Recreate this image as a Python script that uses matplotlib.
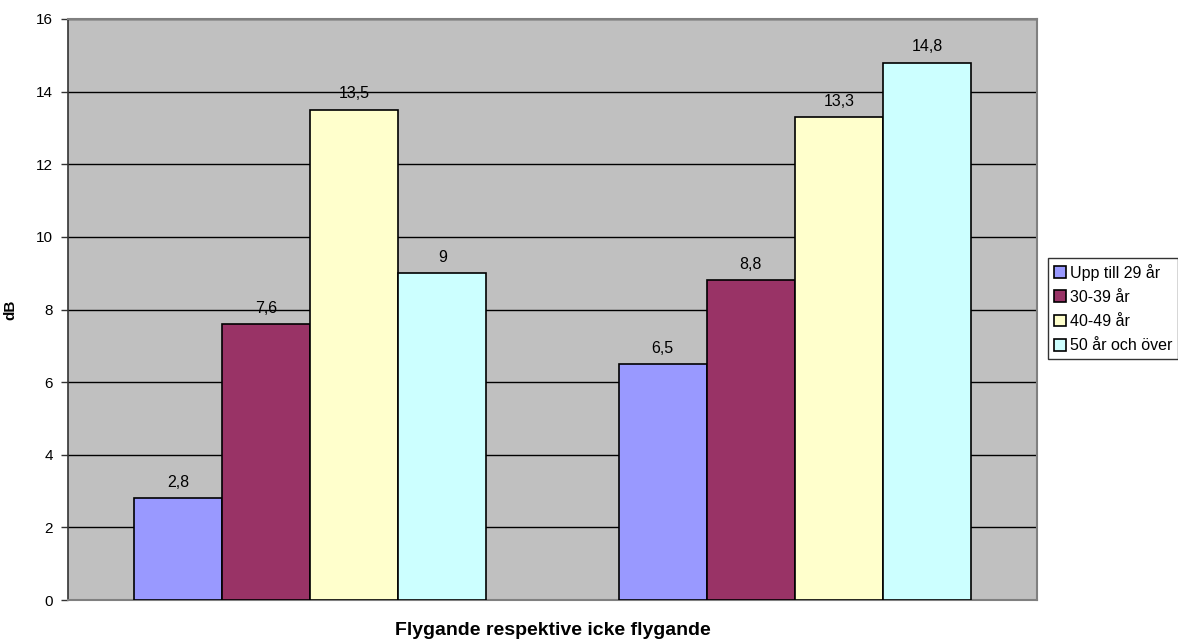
import matplotlib
matplotlib.use("Agg")
import matplotlib.pyplot as plt
import numpy as np

plt.rcParams['font.family'] = ['Liberation Sans', 'DejaVu Sans']

categories = ["Flygande", "Icke flygande"]
series_names = ["Upp till 29 år", "30-39 år", "40-49 år", "50 år och över"]
values = [
    [2.8, 6.5],
    [7.6, 8.8],
    [13.5, 13.3],
    [9.0, 14.8],
]
colors = ["#9999FF", "#993366", "#FFFFCC", "#CCFFFF"]
yticks = [0, 2, 4, 6, 8, 10, 12, 14, 16]

W, H = 1178, 641
fig = plt.figure(figsize=(W / 100, H / 100), dpi=100)
ax = fig.add_axes([68 / W, 41 / H, 969 / W, 581 / H])
ax.set_facecolor("#C0C0C0")

n = len(series_names)
width = 1 / (n + 1.5)
x = np.arange(len(categories))
for i, (name, vals, col) in enumerate(zip(series_names, values, colors)):
    pos = x + (i - (n - 1) / 2) * width
    bars = ax.bar(pos, vals, width, color=col, edgecolor="black", linewidth=1.2,
                  label=name, zorder=3)
    for b, v in zip(bars, vals):
        txt = f"{v:g}".replace(".", ",")
        ax.annotate(txt, (b.get_x() + b.get_width() / 2, v), xytext=(0, 6),
                    textcoords="offset points", ha="center", va="bottom",
                    fontsize=11.5)

ax.set_xlim(-0.5, 1.5)
ax.set_ylim(0, 16)
ax.set_yticks(yticks)
ax.tick_params(axis="y", labelsize=11, length=5, width=1, color="#333333", pad=6)
ax.set_xticks([])
ax.grid(axis="y", color="black", linewidth=1, zorder=1)

for s in ["top", "right", "bottom"]:
    ax.spines[s].set_color("#808080")
    ax.spines[s].set_linewidth(1.5)
ax.spines["left"].set_color("#333333")
ax.spines["left"].set_linewidth(1.2)

ax.set_ylabel("dB", fontsize=11, fontweight="bold")
ax.yaxis.set_label_coords((17 - 68) / 969, 0.5)
ax.set_xlabel("Flygande respektive icke flygande", fontsize=14, fontweight="bold",
              labelpad=16)

leg = ax.legend(loc="upper left", bbox_to_anchor=(1048 / W, 1 - 258 / H),
                bbox_transform=fig.transFigure, frameon=True, fancybox=False,
                edgecolor="black", fontsize=11.5, handlelength=0.75,
                handleheight=0.75, handletextpad=0.3, borderpad=0.35,
                labelspacing=0.58, borderaxespad=0)
leg.get_frame().set_linewidth(1)

fig.savefig("out.png", dpi=100)
